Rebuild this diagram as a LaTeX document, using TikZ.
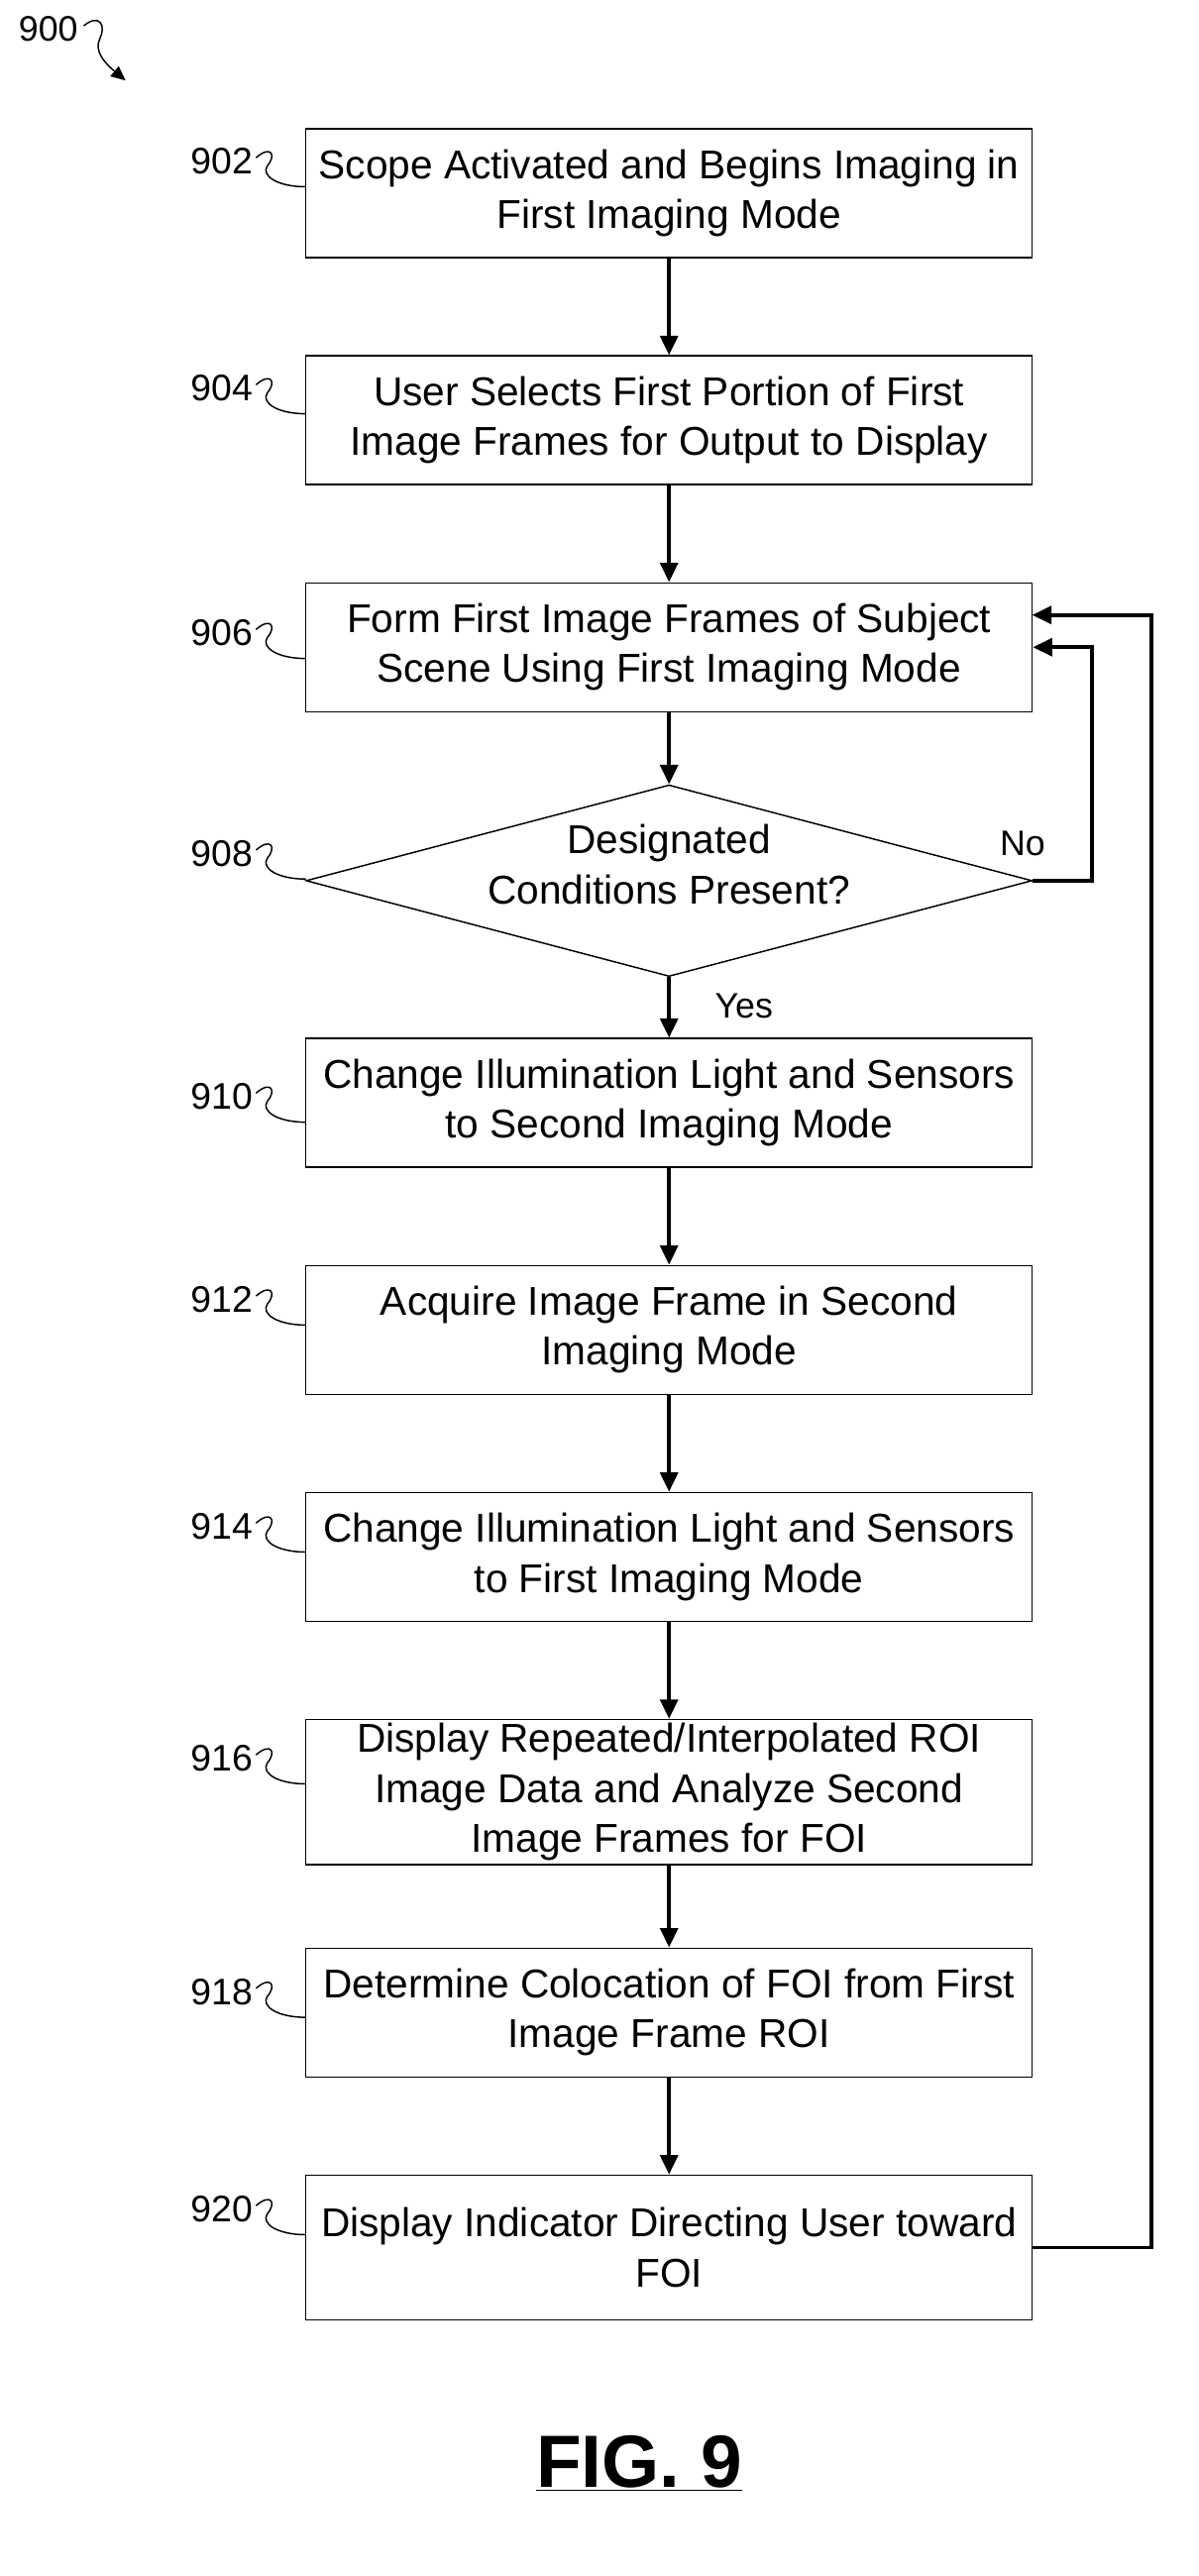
\documentclass[tikz,border=0pt]{standalone}
\usepackage{fontspec}
\setmainfont{Liberation Sans}
\usetikzlibrary{arrows.meta,shapes.geometric}
\begin{document}
\begin{tikzpicture}[x=1pt,y=-1pt,
  box/.style={draw,line width=0.9pt,minimum width=451pt,align=center,font=\fontsize{25}{31}\selectfont,inner sep=0pt},
  lbl/.style={font=\fontsize{23}{26}\selectfont,anchor=east,inner sep=0pt},
  arr/.style={-{Triangle[length=12pt,width=11pt]},line width=2.2pt},
  sq/.style={line width=0.9pt}]
\useasboundingbox (0,0) rectangle (744,1600);
\node[box,minimum height=80pt] (b902) at (415.5,120) {Scope Activated and Begins Imaging in\\First Imaging Mode};
\node[box,minimum height=80pt] (b904) at (415.5,261) {User Selects First Portion of First\\Image Frames for Output to Display};
\node[box,minimum height=80pt] (b906) at (415.5,402) {Form First Image Frames of Subject\\Scene Using First Imaging Mode};
\node[diamond,draw,line width=0.9pt,minimum width=451pt,minimum height=119pt,aspect=3.8,inner sep=0pt] (d908) at (415.5,547) {};
\node[align=center,font=\fontsize{25}{31}\selectfont] at (415.5,537) {Designated\\Conditions Present?};
\node[box,minimum height=80pt] (b910) at (415.5,685) {Change Illumination Light and Sensors\\to Second Imaging Mode};
\node[box,minimum height=80pt] (b912) at (415.5,826) {Acquire Image Frame in Second\\Imaging Mode};
\node[box,minimum height=80pt] (b914) at (415.5,967) {Change Illumination Light and Sensors\\to First Imaging Mode};
\node[box,minimum height=90pt] (b916) at (415.5,1113) {Display Repeated/Interpolated ROI\\Image Data and Analyze Second\\Image Frames for FOI};
\node[box,minimum height=80pt] (b918) at (415.5,1250) {Determine Colocation of FOI from First\\Image Frame ROI};
\node[box,minimum height=90pt] (b920) at (415.5,1396) {Display Indicator Directing User toward\\FOI};
\draw[arr] (b902) -- (b904);
\draw[arr] (b904) -- (b906);
\draw[arr] (b906) -- (d908);
\draw[arr] (d908) -- (b910);
\draw[arr] (b910) -- (b912);
\draw[arr] (b912) -- (b914);
\draw[arr] (b914) -- (b916);
\draw[arr] (b916) -- (b918);
\draw[arr] (b918) -- (b920);
\draw[arr] (d908.east) -- (678,547) -- (678,402) -- (b906.east);
\draw[arr] (b920.east) -- (715,1396) -- (715,382) -- (641,382);
\node[font=\fontsize{22}{26}\selectfont] at (462,625) {Yes};
\node[font=\fontsize{22}{26}\selectfont] at (635,524) {No};
\foreach \n/\y in {902/100,904/241,906/393,908/530,910/681,912/807,914/948,916/1092,918/1237,920/1372}{
  \node[lbl] (l\n) at (157,\y) {\n};
  \draw[sq] (159,\y-2) .. controls (168,\y-10) and (172,\y-4) .. (166,\y+3) .. controls (162,\y+9) and (172,\y+16) .. (190,\y+16);
}
\node[font=\fontsize{22}{26}\selectfont] (l900) at (30,18) {900};
\draw[sq,-{Triangle[length=9pt,width=8pt]}] (52,16) .. controls (62,8) and (66,16) .. (62,24) .. controls (58,32) and (66,40) .. (78,50);
\node[font=\bfseries\fontsize{46}{52}\selectfont] (fig) at (397,1530) {\underline{FIG. 9}};
\end{tikzpicture}
\end{document}
